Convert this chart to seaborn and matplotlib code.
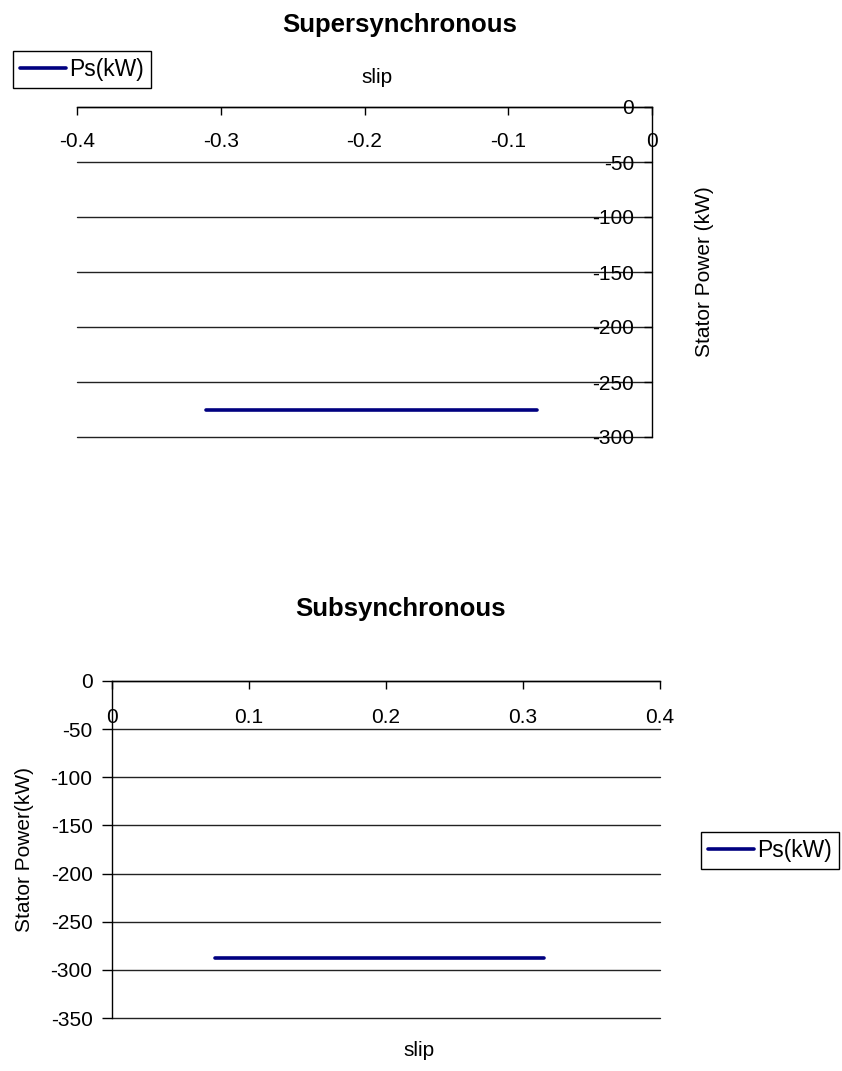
import matplotlib
matplotlib.use("Agg")
import matplotlib.pyplot as plt
import pandas as pd
import seaborn as sns

# Stator power vs slip, supersynchronous operation (negative slip)
slip_super = [-0.31, -0.29, -0.27, -0.25, -0.23, -0.21, -0.19, -0.17,
              -0.15, -0.13, -0.11, -0.09, -0.08]
ps_super = [-275, -275, -275, -275, -275, -275, -275, -275,
            -275, -275, -275, -275, -275]

# Stator power vs slip, subsynchronous operation (positive slip)
slip_sub = [0.075, 0.095, 0.115, 0.135, 0.155, 0.175, 0.195, 0.215,
            0.235, 0.255, 0.275, 0.295, 0.315]
ps_sub = [-288, -288, -288, -288, -288, -288, -288, -288,
          -288, -288, -288, -288, -288]

super_xticks = [-0.4, -0.3, -0.2, -0.1, 0]
super_xticklabels = ["-0.4", "-0.3", "-0.2", "-0.1", "0"]
super_yticks = [0, -50, -100, -150, -200, -250, -300]
super_yticklabels = ["0", "-50", "-100", "-150", "-200", "-250", "-300"]

sub_xticks = [0, 0.1, 0.2, 0.3, 0.4]
sub_xticklabels = ["0", "0.1", "0.2", "0.3", "0.4"]
sub_yticks = [0, -50, -100, -150, -200, -250, -300, -350]
sub_yticklabels = ["0", "-50", "-100", "-150", "-200", "-250", "-300", "-350"]

series_name = "Ps(kW)"

sns.set_theme(style="white")
plt.rcParams["font.family"] = ["Liberation Sans", "DejaVu Sans"]

W, H = 842, 1071
fig = plt.figure(figsize=(W / 100, H / 100), dpi=100)


def box(left, top, right, bottom):
    """Axes rectangle in figure fractions from pixel edges."""
    return [left / W, 1 - bottom / H, (right - left) / W, (bottom - top) / H]


ax1 = fig.add_axes(box(77, 107, 652, 437))
ax2 = fig.add_axes(box(112, 681, 660, 1018))

LINE = "#000080"
GRID = "#222222"
TICK_FS = 15
LABEL_FS = 15
LEG_FS = 16.5
TITLE_FS = 18.5

df_super = pd.DataFrame({"slip": slip_super, series_name: ps_super})
df_sub = pd.DataFrame({"slip": slip_sub, series_name: ps_sub})

sns.lineplot(data=df_super, x="slip", y=series_name, ax=ax1, color=LINE,
             linewidth=2.6, label=series_name, legend=False)
sns.lineplot(data=df_sub, x="slip", y=series_name, ax=ax2, color=LINE,
             linewidth=2.6, label=series_name, legend=False)

# ---- Supersynchronous: axes cross at the top-right corner ----
ax1.set_xlim(-0.4, 0)
ax1.set_ylim(-300, 0)
ax1.set_xticks(super_xticks, super_xticklabels)
ax1.set_yticks(super_yticks, super_yticklabels)
ax1.yaxis.grid(True, color=GRID, linewidth=1)
ax1.xaxis.grid(False)
ax1.spines["left"].set_visible(False)
ax1.spines["bottom"].set_visible(False)
for s in ("top", "right"):
    ax1.spines[s].set_color("black")
    ax1.spines[s].set_linewidth(1)
ax1.tick_params(axis="x", bottom=False, labelbottom=False, top=True,
                labeltop=True, direction="in", length=6, width=1,
                color="black", pad=-25, labelsize=TICK_FS, labelcolor="black")
ax1.tick_params(axis="y", left=False, labelleft=False, right=True,
                labelright=True, direction="in", length=6, width=1,
                color="black", pad=-13, labelsize=TICK_FS, labelcolor="black")
plt.setp(ax1.get_xticklabels(), va="center")
plt.setp(ax1.get_yticklabels(), ha="right")

ax1.set_xlabel("slip", fontsize=LABEL_FS, color="black")
ax1.xaxis.set_label_position("top")
ax1.xaxis.set_label_coords(0.522, 1.073)
ax1.set_ylabel("Stator Power (kW)", fontsize=LABEL_FS, color="black")
ax1.yaxis.set_label_position("right")
ax1.yaxis.set_label_coords(1.075, 0.5)

# ---- Subsynchronous: axes cross at the top-left corner ----
ax2.set_xlim(0, 0.4)
ax2.set_ylim(-350, 0)
ax2.set_xticks(sub_xticks, sub_xticklabels)
ax2.set_yticks(sub_yticks, sub_yticklabels)
ax2.yaxis.grid(True, color=GRID, linewidth=1)
ax2.xaxis.grid(False)
ax2.spines["right"].set_visible(False)
ax2.spines["bottom"].set_visible(False)
for s in ("top", "left"):
    ax2.spines[s].set_color("black")
    ax2.spines[s].set_linewidth(1)
ax2.tick_params(axis="x", bottom=False, labelbottom=False, top=True,
                labeltop=True, direction="in", length=6, width=1,
                color="black", pad=-26, labelsize=TICK_FS, labelcolor="black")
ax2.tick_params(axis="y", left=True, labelleft=True, right=False,
                labelright=False, direction="out", length=7, width=1,
                color="black", pad=7, labelsize=TICK_FS, labelcolor="black")
plt.setp(ax2.get_xticklabels(), va="center")

ax2.set_xlabel("slip", fontsize=LABEL_FS, color="black")
ax2.xaxis.set_label_position("bottom")
ax2.xaxis.set_label_coords(0.56, -0.068)
ax2.set_ylabel("Stator Power(kW)", fontsize=LABEL_FS, color="black")
ax2.yaxis.set_label_coords(-0.143, 0.5)

# Gridlines on the axis limits should show at full width
for ax in (ax1, ax2):
    for gl in ax.get_ygridlines():
        gl.set_clip_on(False)

# ---- Legends ----
for ax, (lx, ty) in ((ax1, (13, 51)), (ax2, (701, 832))):
    leg = ax.legend(loc="upper left", bbox_to_anchor=(lx / W, 1 - ty / H),
                    bbox_transform=fig.transFigure, borderaxespad=0,
                    frameon=True, fancybox=False, shadow=False,
                    edgecolor="black", framealpha=1, fontsize=LEG_FS,
                    handlelength=2.0, handletextpad=0.15, borderpad=0.3)
    leg.get_frame().set_linewidth(1)
    for t in leg.get_texts():
        t.set_color("black")

# ---- Titles ----
fig.text(400 / W, 1 - 25 / H, "Supersynchronous", ha="center", va="center",
         fontsize=TITLE_FS, fontweight="bold", color="black")
fig.text(400 / W, 1 - 609 / H, "Subsynchronous", ha="center", va="center",
         fontsize=TITLE_FS, fontweight="bold", color="black")

fig.savefig("out.png", dpi=100, facecolor="white")
